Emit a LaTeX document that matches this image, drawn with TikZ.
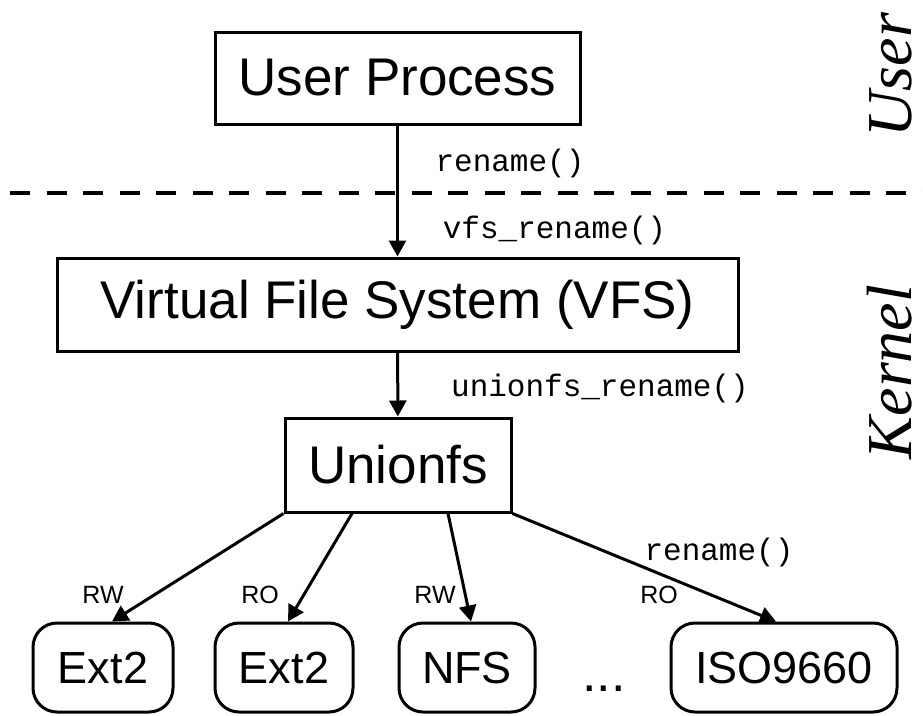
\documentclass[tikz,border=0pt]{standalone}
\usepackage{fontspec}
\setmainfont{Liberation Serif}
\setsansfont{Liberation Sans}
\setmonofont{Liberation Mono}
\usetikzlibrary{arrows.meta}

\tikzset{
  layerbox/.style={draw, line width=3pt, inner sep=0pt,
    font=\sffamily\fontsize{53}{60}\selectfont},
  fsbox/.style={draw, line width=3pt, rounded corners=24pt, inner sep=0pt,
    minimum height=89pt, font=\sffamily\fontsize{45}{52}\selectfont},
  calllbl/.style={font=\ttfamily\fontsize{31}{36}\selectfont, inner sep=0pt},
  modelbl/.style={font=\sffamily\fontsize{25}{30}\selectfont, inner sep=0pt},
  sidelbl/.style={rotate=90, anchor=south, font=\itshape\fontsize{64}{70}\selectfont, inner sep=0pt},
  callarrow/.style={line width=3pt, -{Triangle[length=16pt, width=17pt]}}
}

\begin{document}
\begin{tikzpicture}[x=1pt, y=-1pt]
  \useasboundingbox (0,0) rectangle (923,715);

  % User / Kernel boundary
  \coordinate (sepL) at (10,193);
  \coordinate (sepR) at (923,193);
  \draw[line width=4pt, dash pattern=on 20pt off 16.5pt] (sepL) -- (sepR);
  \node[sidelbl] (userlbl) at (912,75) {User};
  \node[sidelbl] (kernlbl) at (912,372) {Kernel};

  % Layers
  \node[layerbox, minimum width=365pt, minimum height=92pt] (proc) at (397.5,78) {User Process};
  \node[layerbox, minimum width=681pt, minimum height=93pt] (vfs) at (397.5,304.5) {Virtual File System (VFS)};
  \node[layerbox, minimum width=226pt, minimum height=94pt] (union) at (398,465) {Unionfs};

  % Lower file systems
  \node[fsbox, minimum width=140pt] (ext2a) at (103,667.5) {Ext2};
  \node[fsbox, minimum width=138pt] (ext2b) at (284,667.5) {Ext2};
  \node[fsbox, minimum width=136pt] (nfs) at (467,667.5) {NFS};
  \node[fsbox, minimum width=226pt] (iso) at (784,667.5) {ISO9660};
  \node[font=\sffamily\fontsize{52}{60}\selectfont, inner sep=0pt] (dots) at (604,689) {...};

  % Calls
  \draw[callarrow] (proc) -- (vfs);
  \draw[callarrow] (vfs) -- (union);
  \node[calllbl] (renlbl) at (510,163) {rename()};
  \node[calllbl] (vfslbl) at (554.5,230) {vfs\_rename()};
  \node[calllbl] (unilbl) at (600,388) {unionfs\_rename()};

  % Branches
  \draw[callarrow] (union.south west) -- ([xshift=9pt]ext2a.north);
  \draw[callarrow] ([xshift=-46pt]union.south) -- ([xshift=4pt]ext2b.north);
  \draw[callarrow] ([xshift=50pt]union.south) -- ([xshift=4pt]nfs.north);
  \draw[callarrow] (union.south east) -- ([xshift=-8pt]iso.north);
  \node[modelbl] (rw1) at (103,595) {RW};
  \node[modelbl] (ro1) at (260,595) {RO};
  \node[modelbl] (rw2) at (435,595) {RW};
  \node[modelbl] (ro2) at (659,595) {RO};
  \node[calllbl] (isolbl) at (719,552) {rename()};
\end{tikzpicture}
\end{document}
